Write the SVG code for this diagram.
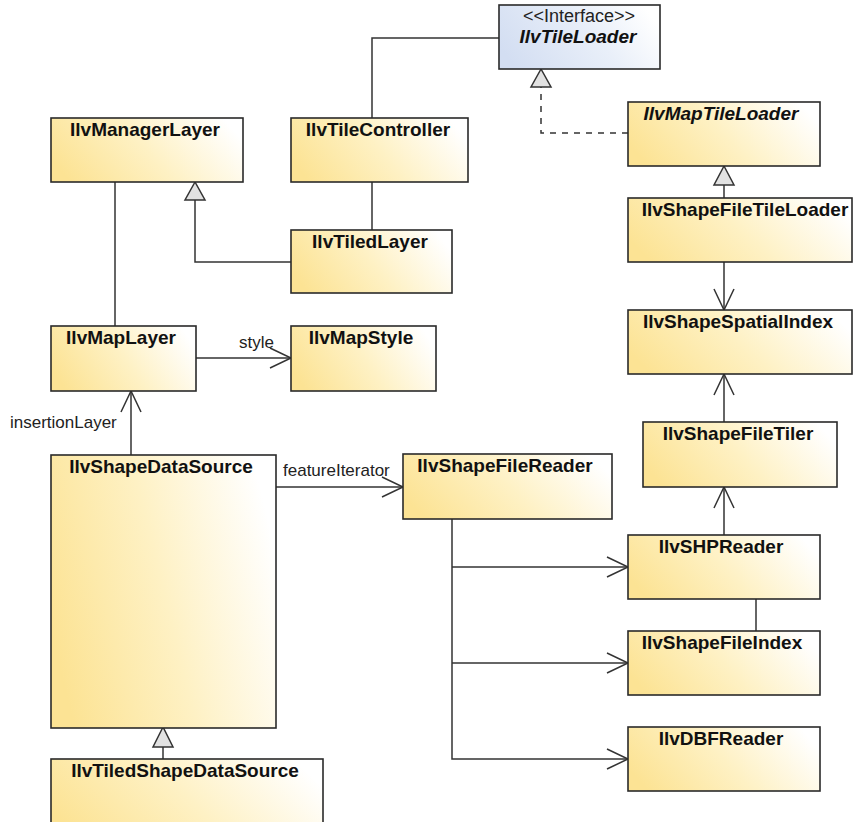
<svg xmlns="http://www.w3.org/2000/svg" width="859" height="822" viewBox="0 0 859 822">
<defs>
<linearGradient id="yel" x1="0" y1="0.65" x2="1" y2="0.35">
<stop offset="0" stop-color="#FCE394"/>
<stop offset="0.5" stop-color="#FEF1C4"/>
<stop offset="1" stop-color="#FFFFFF"/>
</linearGradient>
<linearGradient id="blu" x1="0" y1="0.65" x2="1" y2="0.35">
<stop offset="0" stop-color="#D3DEF2"/>
<stop offset="0.6" stop-color="#E9EFF9"/>
<stop offset="1" stop-color="#FFFFFF"/>
</linearGradient>
<style>
.box{fill:url(#yel);stroke:#2a2a2a;stroke-width:1.6}
.ibox{fill:url(#blu);stroke:#2a2a2a;stroke-width:1.6}
.t{font-family:"Liberation Sans",Arial,sans-serif;font-weight:bold;font-size:19px;fill:#111;text-anchor:middle}
.ti{font-style:italic}
.n{font-family:"Liberation Sans",Arial,sans-serif;font-size:17px;fill:#222}
.c{fill:none;stroke:#333;stroke-width:1.5}
.d{stroke-dasharray:6 6}
.tri{fill:#E2E2E2;stroke:#333;stroke-width:1.5}
</style>
</defs>
<g id="connectors">
<path class="c" d="M372,118 V38 H499"/>
<path class="c" d="M372,182 V230"/>
<path class="c" d="M291,262 H195 V200"/>
<polygon class="tri" points="195,182 185,200 205,200"/>
<path class="c" d="M115,182 V326"/>
<path class="c d" d="M628,133 H541 V87"/>
<polygon class="tri" points="541,69 531,87 551,87"/>
<path class="c" d="M724,198 V185"/>
<polygon class="tri" points="724,166 714,185 734,185"/>
<path class="c" d="M724,262 V310"/>
<polyline class="c" points="714,289 724,310 734,289"/>
<path class="c" d="M724,422 V374"/>
<polyline class="c" points="714,395 724,374 734,395"/>
<path class="c" d="M724,535 V487"/>
<polyline class="c" points="714,508 724,487 734,508"/>
<path class="c" d="M756,599 V631"/>
<path class="c" d="M196,358 H291"/>
<polyline class="c" points="270,348 291,358 270,368"/>
<text class="n" x="239" y="348">style</text>
<path class="c" d="M131,455 V391"/>
<polyline class="c" points="121,412 131,391 141,412"/>
<text class="n" x="10" y="428">insertionLayer</text>
<path class="c" d="M276,487 H403"/>
<polyline class="c" points="382,477 403,487 382,497"/>
<text class="n" x="283" y="476">featureIterator</text>
<path class="c" d="M452,519 V759 H628"/>
<path class="c" d="M452,567 H628"/>
<path class="c" d="M452,663 H628"/>
<polyline class="c" points="607,557 628,567 607,577"/>
<polyline class="c" points="607,653 628,663 607,673"/>
<polyline class="c" points="607,749 628,759 607,769"/>
<path class="c" d="M163,759 V747"/>
<polygon class="tri" points="163,727 153,747 173,747"/>
</g>
<g id="IlvTileLoader">
<rect class="ibox" x="499" y="5" width="161" height="64"/>
<text class="n" x="579" y="22" text-anchor="middle" style="font-size:18px">&lt;&lt;Interface&gt;&gt;</text>
<text class="t ti" x="578" y="43">IlvTileLoader</text>
</g>
<g id="IlvManagerLayer">
<rect class="box" x="51" y="118" width="192" height="64"/>
<text class="t" x="145" y="136">IlvManagerLayer</text>
</g>
<g id="IlvTileController">
<rect class="box" x="291" y="118" width="177" height="64"/>
<text class="t" x="378" y="136">IlvTileController</text>
</g>
<g id="IlvMapTileLoader">
<rect class="box" x="628" y="102" width="192" height="64"/>
<text class="t ti" x="721" y="120">IlvMapTileLoader</text>
</g>
<g id="IlvTiledLayer">
<rect class="box" x="291" y="230" width="161" height="63"/>
<text class="t" x="370" y="248">IlvTiledLayer</text>
</g>
<g id="IlvShapeFileTileLoader">
<rect class="box" x="628" y="198" width="224" height="64"/>
<text class="t" x="745" y="216">IlvShapeFileTileLoader</text>
</g>
<g id="IlvShapeSpatialIndex">
<rect class="box" x="628" y="310" width="224" height="64"/>
<text class="t" x="738" y="328">IlvShapeSpatialIndex</text>
</g>
<g id="IlvMapLayer">
<rect class="box" x="51" y="326" width="145" height="65"/>
<text class="t" x="121" y="344">IlvMapLayer</text>
</g>
<g id="IlvMapStyle">
<rect class="box" x="291" y="326" width="145" height="65"/>
<text class="t" x="361" y="344">IlvMapStyle</text>
</g>
<g id="IlvShapeFileTiler">
<rect class="box" x="643" y="422" width="194" height="65"/>
<text class="t" x="738" y="440">IlvShapeFileTiler</text>
</g>
<g id="IlvShapeDataSource">
<rect class="box" x="51" y="455" width="225" height="273"/>
<text class="t" x="161" y="473">IlvShapeDataSource</text>
</g>
<g id="IlvShapeFileReader">
<rect class="box" x="403" y="454" width="209" height="65"/>
<text class="t" x="505" y="472">IlvShapeFileReader</text>
</g>
<g id="IlvSHPReader">
<rect class="box" x="628" y="535" width="192" height="64"/>
<text class="t" x="721" y="553">IlvSHPReader</text>
</g>
<g id="IlvShapeFileIndex">
<rect class="box" x="628" y="631" width="192" height="64"/>
<text class="t" x="722" y="649">IlvShapeFileIndex</text>
</g>
<g id="IlvDBFReader">
<rect class="box" x="628" y="727" width="192" height="64"/>
<text class="t" x="721" y="745">IlvDBFReader</text>
</g>
<g id="IlvTiledShapeDataSource">
<rect class="box" x="51" y="759" width="272" height="80"/>
<text class="t" x="185" y="777">IlvTiledShapeDataSource</text>
</g>
</svg>
